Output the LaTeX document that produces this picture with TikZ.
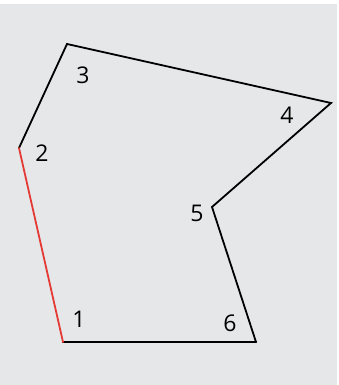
\documentclass[tikz,border=0pt]{standalone}
\usepackage{fontspec}
\setmainfont{Open Sans}
\definecolor{bg}{HTML}{E6E7E8}
\definecolor{edgered}{HTML}{E53935}
\tikzset{
  edge/.style={line width=1.8pt, line cap=round, line join=miter},
  lbl/.style={font=\fontsize{23}{25}\selectfont, inner sep=0pt}
}
\begin{document}
\begin{tikzpicture}[x=1pt,y=1pt]
\fill[white] (0,0) rectangle (339,385);
\fill[bg] (0,0) rectangle (337,381);
\useasboundingbox (0,0) rectangle (339,385);
\coordinate (v1) at (63,43);
\coordinate (v2) at (19,237);
\coordinate (v3) at (67,341);
\coordinate (v4) at (331,282);
\coordinate (v5) at (212,178);
\coordinate (v6) at (256,43);
\draw[edge] (v2) -- (v3) -- (v4) -- (v5) -- (v6);
\draw[edge, line width=2.4pt] (v6) -- (v1);
\draw[edge, edgered] (v1) -- (v2);
\node[lbl] (l1) at (79,66) {1};
\node[lbl] (l2) at (42,232) {2};
\node[lbl] (l3) at (83,310) {3};
\node[lbl] (l4) at (287,270) {4};
\node[lbl] (l5) at (197,172) {5};
\node[lbl] (l6) at (230,62) {6};
\end{tikzpicture}
\end{document}
